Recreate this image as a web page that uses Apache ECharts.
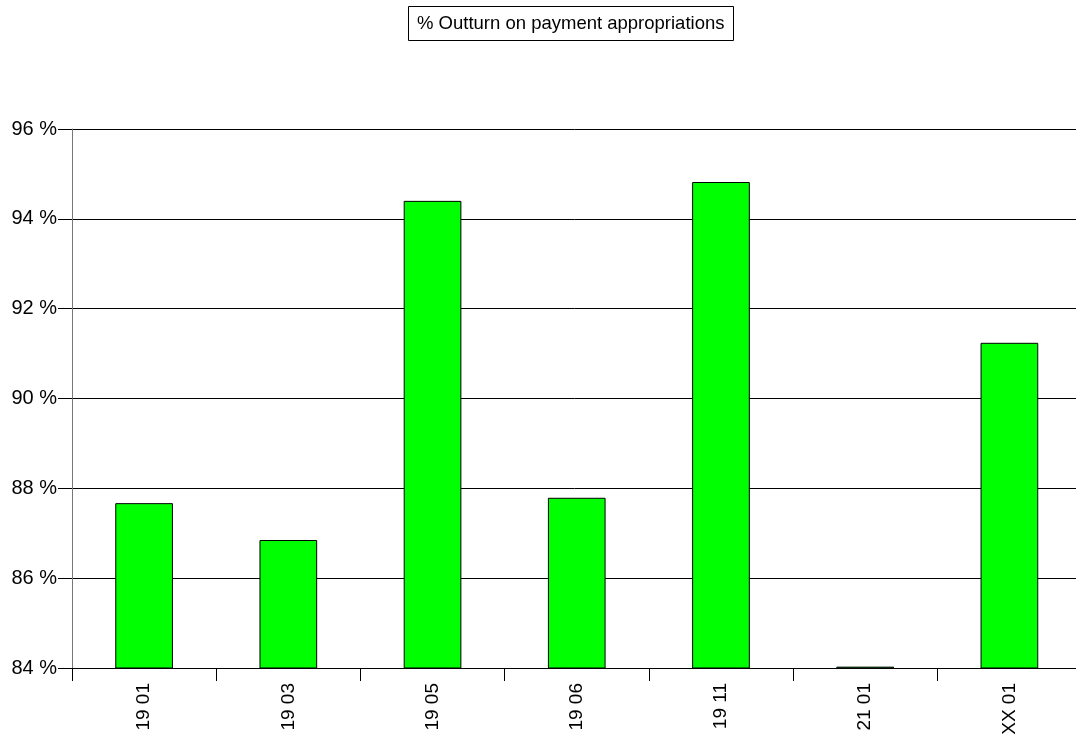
<!DOCTYPE html>
<html>
<head>
<meta charset="utf-8">
<script src="https://cdn.jsdelivr.net/npm/echarts@6/dist/echarts.min.js"></script>
<style>
html,body{margin:0;padding:0;background:#fff;overflow:hidden;}
#chart{width:1076px;height:738px;}
</style>
</head>
<body>
<div id="chart"></div>
<script>
const titleText = '% Outturn on payment appropriations';
const categories = ['19 01', '19 03', '19 05', '19 06', '19 11', '21 01', 'XX 01'];
const outturn = [87.67, 86.85, 94.40, 87.79, 94.82, 84.03, 91.24];
const yMin = 84, yMax = 96, yStep = 2;

const chart = echarts.init(document.getElementById('chart'), null, {renderer: 'canvas'});
chart.setOption({
  animation: false,
  backgroundColor: '#fff',
  title: {
    text: titleText,
    left: 408,
    top: 6,
    padding: [8, 9, 8, 9],
    borderColor: '#000',
    borderWidth: 1,
    textStyle: {fontFamily: 'Liberation Sans, Arial, sans-serif', fontSize: 18.5, fontWeight: 'normal', color: '#000'}
  },
  grid: {left: 72, width: 1009.5, top: 129, bottom: 70, containLabel: false, outerBoundsMode: 'none'},
  xAxis: {
    type: 'category',
    data: categories,
    boundaryGap: true,
    axisLine: {lineStyle: {color: '#000', width: 1}},
    axisTick: {show: true, length: 13, lineStyle: {color: '#000'}},
    axisLabel: {rotate: 90, margin: 15, color: '#000', fontSize: 19, fontFamily: 'Liberation Sans, Arial, sans-serif'},
    splitLine: {show: false}
  },
  yAxis: {
    type: 'value',
    min: yMin, max: yMax, interval: yStep,
    axisLine: {show: true, lineStyle: {color: '#777', width: 1}},
    axisTick: {show: true, length: 14, lineStyle: {color: '#000'}},
    axisLabel: {margin: 15, color: '#000', fontSize: 20, fontFamily: 'Liberation Sans, Arial, sans-serif', formatter: '{value} %'},
    splitLine: {show: true, lineStyle: {color: '#000', width: 1}}
  },
  series: [{
    type: 'bar',
    data: outturn,
    barWidth: '40%',
    itemStyle: {color: '#00ff00', borderColor: '#000', borderWidth: 1}
  }]
});
</script>
</body>
</html>
